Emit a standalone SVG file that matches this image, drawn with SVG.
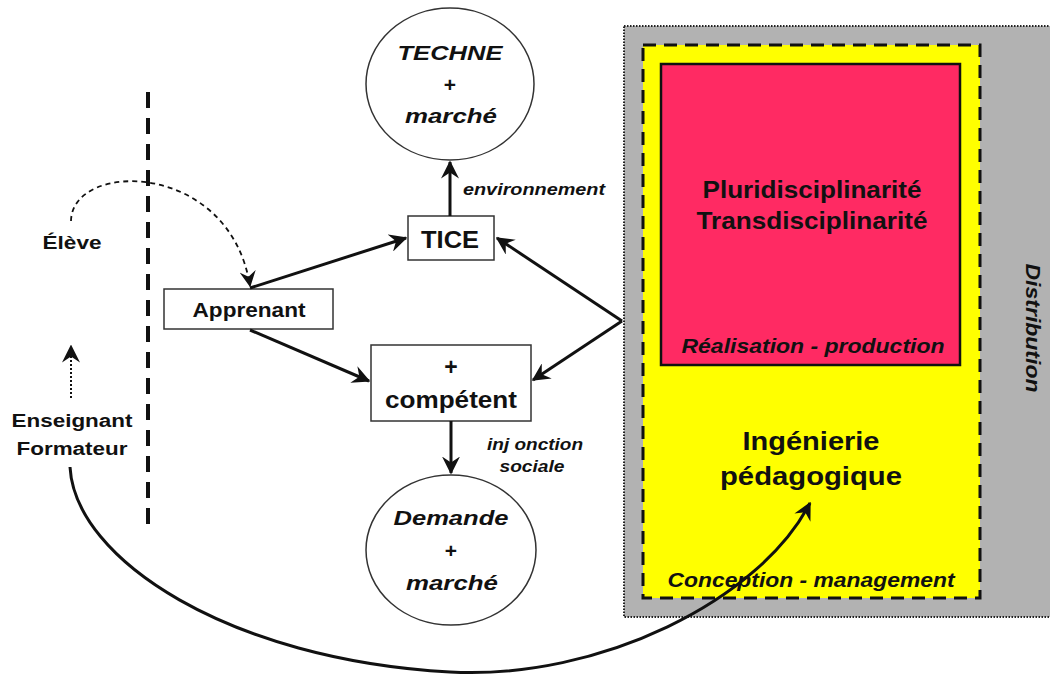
<svg xmlns="http://www.w3.org/2000/svg" width="1050" height="675" viewBox="0 0 1050 675">
<defs>
<style>
.t{font-family:"Liberation Sans",Arial,sans-serif;font-weight:bold;fill:#111;text-anchor:middle}
.i{font-style:italic}
.box{fill:#fff;stroke:#333;stroke-width:1.5}
.conn{fill:none;stroke:#111;stroke-width:3}
</style>
<marker id="ah" viewBox="0 0 12 12" refX="11" refY="6" markerWidth="6" markerHeight="6" orient="auto" markerUnits="strokeWidth">
<path d="M0,0 L12,6 L0,12 L4,6 Z" fill="#111"/>
</marker>
<marker id="ahs" viewBox="0 0 12 12" refX="11" refY="6" markerWidth="9" markerHeight="9" orient="auto" markerUnits="strokeWidth">
<path d="M0,0 L12,6 L0,12 L4,6 Z" fill="#111"/>
</marker>
</defs>
<rect width="1050" height="675" fill="#fff"/>

<g id="distribution">
<rect x="624" y="26" width="430" height="591" fill="#b2b2b2" stroke="#222" stroke-width="2" stroke-dasharray="1.5 1.5"/>
<text class="t i" font-size="20" fill="#333" textLength="129" lengthAdjust="spacingAndGlyphs" transform="translate(1026,328) rotate(90)">Distribution</text>
</g>

<g id="conception">
<rect x="643" y="45" width="337" height="553" fill="#ffff00" stroke="#111" stroke-width="3" stroke-dasharray="13 8"/>
<text class="t" font-size="26" x="811" y="450" textLength="137" lengthAdjust="spacingAndGlyphs">Ingénierie</text>
<text class="t" font-size="26" x="811" y="485" textLength="182" lengthAdjust="spacingAndGlyphs">pédagogique</text>
<text class="t i" font-size="20" x="811" y="587" textLength="287" lengthAdjust="spacingAndGlyphs">Conception - management</text>
</g>

<g id="realisation">
<rect x="661" y="64" width="299" height="301" fill="#ff2a63" stroke="#111" stroke-width="2.5"/>
<text class="t" font-size="24" x="812" y="198" textLength="219" lengthAdjust="spacingAndGlyphs">Pluridisciplinarité</text>
<text class="t" font-size="24" x="812" y="229" textLength="231" lengthAdjust="spacingAndGlyphs">Transdisciplinarité</text>
<text class="t i" font-size="20" x="813" y="353" textLength="263" lengthAdjust="spacingAndGlyphs">Réalisation - production</text>
</g>

<g id="separator">
<line x1="148" y1="92" x2="148" y2="528" stroke="#111" stroke-width="4" stroke-dasharray="16 10"/>
</g>

<g id="techne">
<ellipse cx="450" cy="84" rx="84" ry="76" fill="#fff" stroke="#333" stroke-width="1.5"/>
<text class="t i" font-size="21" x="450" y="60" textLength="105" lengthAdjust="spacingAndGlyphs">TECHNE</text>
<text class="t" font-size="21" x="450" y="92">+</text>
<text class="t i" font-size="21" x="451" y="123" textLength="92" lengthAdjust="spacingAndGlyphs">marché</text>
</g>

<g id="tice">
<rect class="box" x="408" y="216" width="86" height="44"/>
<text class="t" font-size="23" x="450" y="248" textLength="58" lengthAdjust="spacingAndGlyphs">TICE</text>
</g>

<g id="apprenant">
<rect class="box" x="164" y="289" width="169" height="40"/>
<text class="t" font-size="20" x="249" y="317" textLength="113" lengthAdjust="spacingAndGlyphs">Apprenant</text>
</g>

<g id="competent">
<rect class="box" x="371" y="345" width="160" height="76"/>
<text class="t" font-size="23" x="451" y="375">+</text>
<text class="t" font-size="23" x="451" y="408" textLength="132" lengthAdjust="spacingAndGlyphs">compétent</text>
</g>

<g id="demande">
<ellipse cx="451" cy="550" rx="85" ry="75" fill="#fff" stroke="#333" stroke-width="1.5"/>
<text class="t i" font-size="21" x="451" y="525" textLength="115" lengthAdjust="spacingAndGlyphs">Demande</text>
<text class="t" font-size="21" x="451" y="558">+</text>
<text class="t i" font-size="21" x="452" y="590" textLength="92" lengthAdjust="spacingAndGlyphs">marché</text>
</g>

<g id="eleve">
<text class="t" font-size="18" x="72" y="249" textLength="59" lengthAdjust="spacingAndGlyphs">Élève</text>
</g>

<g id="enseignant">
<text class="t" font-size="18" x="72" y="427" textLength="121" lengthAdjust="spacingAndGlyphs">Enseignant</text>
<text class="t" font-size="18" x="72" y="455" textLength="111" lengthAdjust="spacingAndGlyphs">Formateur</text>
</g>

<g id="connectors">
<line class="conn" x1="450" y1="216" x2="450" y2="162" marker-end="url(#ah)"/>
<text class="t i" font-size="16" x="534" y="195" textLength="142" lengthAdjust="spacingAndGlyphs">environnement</text>
<line class="conn" x1="250" y1="288" x2="406" y2="238" marker-end="url(#ah)"/>
<line class="conn" x1="250" y1="330" x2="369" y2="381" marker-end="url(#ah)"/>
<line class="conn" x1="622" y1="321" x2="497" y2="238" marker-end="url(#ah)"/>
<line class="conn" x1="622" y1="321" x2="533" y2="380" marker-end="url(#ah)"/>
<line class="conn" x1="451" y1="421" x2="451" y2="473" marker-end="url(#ah)"/>
<text class="t i" font-size="16" x="535" y="450" textLength="96" lengthAdjust="spacingAndGlyphs">inj onction</text>
<text class="t i" font-size="16" x="532" y="472" textLength="65" lengthAdjust="spacingAndGlyphs">sociale</text>
<path d="M71,221 C72,160 230,160 250,286" fill="none" stroke="#111" stroke-width="1.8" stroke-dasharray="5 4" marker-end="url(#ahs)"/>
<line x1="71" y1="398" x2="71" y2="346" stroke="#111" stroke-width="2" stroke-dasharray="2 2" marker-end="url(#ahs)"/>
<path d="M70,467 C75,560 230,660 450,672 C600,680 760,600 810,503" fill="none" stroke="#111" stroke-width="3" marker-end="url(#ah)"/>
</g>
</svg>
